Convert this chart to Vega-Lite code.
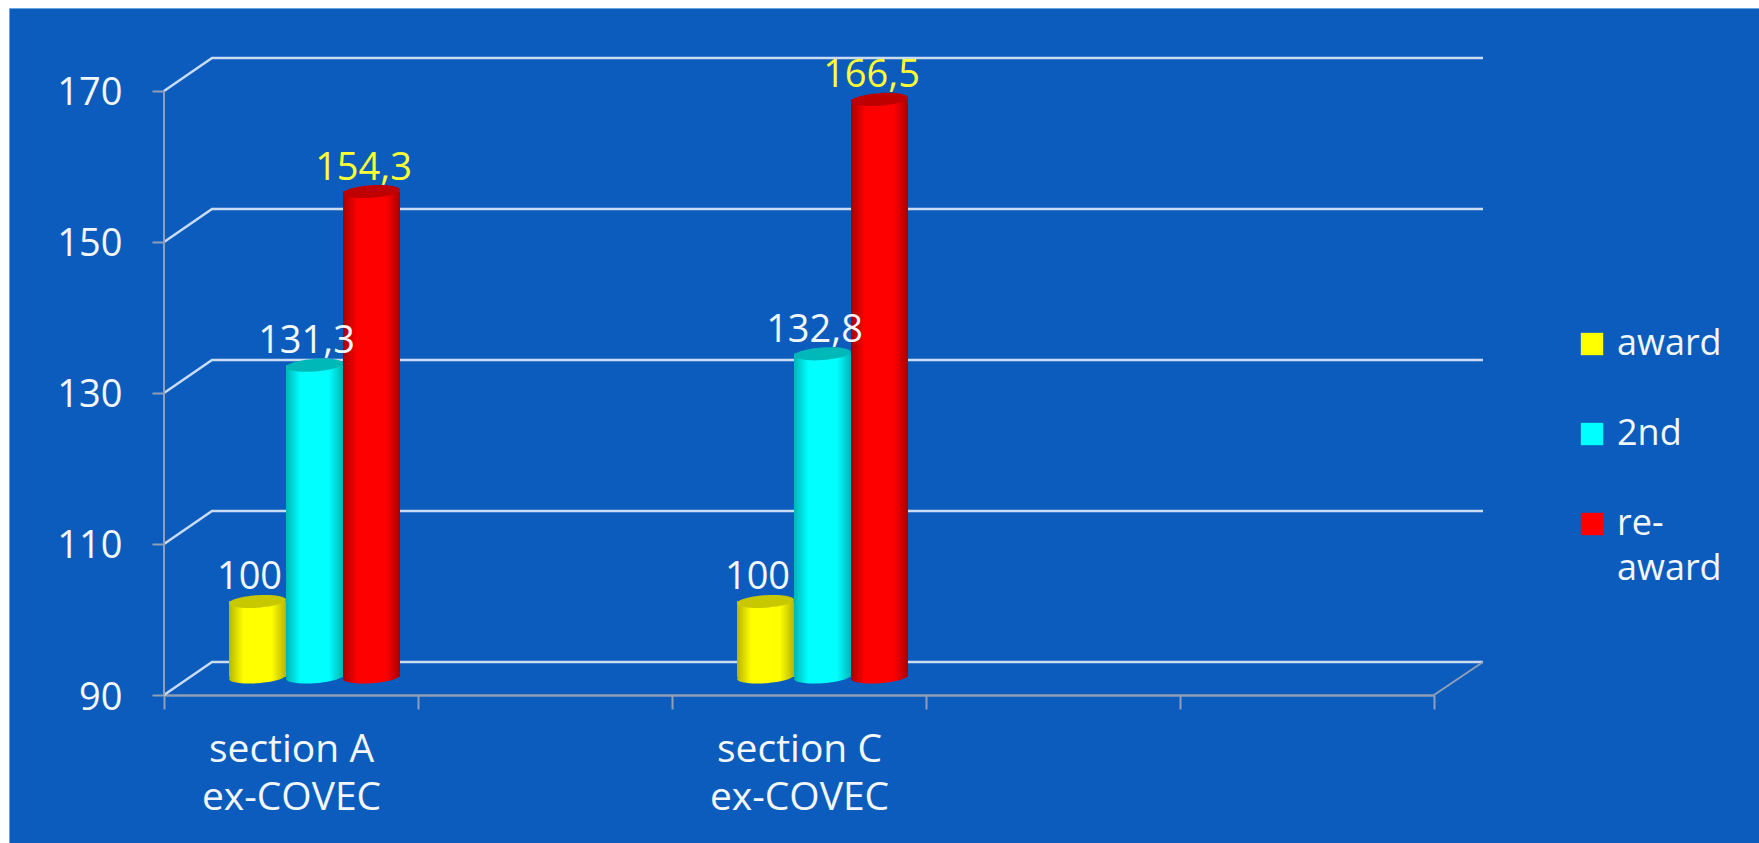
{
"$schema":"https://vega.github.io/schema/vega-lite/v6.json",
"width":1750,"height":835,"autosize":"none",
"padding":{"left":9,"top":8,"right":0,"bottom":0},
"background":"white",
"view":{"fill":"#0C5CBD","stroke":"#6AA5DE","strokeWidth":1},
"config":{"font":"Open Sans"},
"datasets":{
"bars":[
{"section":"section A ex-COVEC","series":"award","value":100,"label":"100"},
{"section":"section A ex-COVEC","series":"2nd","value":131.3,"label":"131,3"},
{"section":"section A ex-COVEC","series":"re-award","value":154.3,"label":"154,3"},
{"section":"section C ex-COVEC","series":"award","value":100,"label":"100"},
{"section":"section C ex-COVEC","series":"2nd","value":132.8,"label":"132,8"},
{"section":"section C ex-COVEC","series":"re-award","value":166.5,"label":"166,5"}
],
"grid":[
{"level":170,"step":1,"u":0,"v":170},{"level":170,"step":2,"u":0.189,"v":174.37},{"level":170,"step":3,"u":5.193,"v":174.37},
{"level":150,"step":1,"u":0,"v":150},{"level":150,"step":2,"u":0.189,"v":154.37},{"level":150,"step":3,"u":5.193,"v":154.37},
{"level":130,"step":1,"u":0,"v":130},{"level":130,"step":2,"u":0.189,"v":134.37},{"level":130,"step":3,"u":5.193,"v":134.37},
{"level":110,"step":1,"u":0,"v":110},{"level":110,"step":2,"u":0.189,"v":114.37},{"level":110,"step":3,"u":5.193,"v":114.37},
{"level":90,"step":1,"u":0,"v":90},{"level":90,"step":2,"u":0.189,"v":94.37},{"level":90,"step":3,"u":5.193,"v":94.37}
],
"frame":[
{"part":"wall","step":1,"u":0,"v":90},{"part":"wall","step":2,"u":0,"v":170},
{"part":"side","step":1,"u":5,"v":90},{"part":"side","step":2,"u":5.193,"v":94.37}
]
},
"layer":[
{"data":{"name":"grid"},"mark":{"type":"line","stroke":"#C9DCF4","strokeWidth":2.5},
 "encoding":{
  "x":{"field":"u","type":"quantitative","axis":null,"scale":{"domain":[0,5.193],"range":[155,1474],"nice":false,"zero":false}},
  "y":{"field":"v","type":"quantitative","title":null,"scale":{"domain":[90,174.37],"range":[687,50],"nice":false,"zero":false},
   "axis":{"offset":-155,"values":[90,110,130,150,170],"domain":false,"grid":false,"labelFont":"Open Sans","labelFontSize":38,"labelColor":"#F2F7FC","labelPadding":30,"labelOffset":3,"tickSize":12,"tickColor":"#8E9FB6","tickWidth":2}},
  "detail":{"field":"level"},"order":{"field":"step"}}},
{"data":{"name":"frame"},"mark":{"type":"line","stroke":"#8E9FB6","strokeWidth":2},
 "encoding":{
  "x":{"field":"u","type":"quantitative","axis":null,"scale":{"domain":[0,5.193],"range":[155,1474],"nice":false,"zero":false}},
  "y":{"field":"v","type":"quantitative","title":null,"scale":{"domain":[90,174.37],"range":[687,50],"nice":false,"zero":false},
   "axis":{"offset":-155,"values":[90,110,130,150,170],"domain":false,"grid":false,"labelFont":"Open Sans","labelFontSize":38,"labelColor":"#F2F7FC","labelPadding":30,"labelOffset":3,"tickSize":12,"tickColor":"#8E9FB6","tickWidth":2}},
  "detail":{"field":"part"},"order":{"field":"step"}}},
{"data":{"name":"bars"},
 "encoding":{
  "x":{"field":"section","type":"nominal","title":null,
   "scale":{"domain":["section A ex-COVEC"," ","section C ex-COVEC","  ","   "],"range":[155,1425],"paddingInner":0,"paddingOuter":0},
   "axis":{"offset":-148,"tickBand":"extent","labelAngle":0,"labelAlign":"center","labelBaseline":"top","labelFont":"Open Sans","labelFontSize":39,"labelColor":"#F2F7FC","labelLineHeight":48,"labelPadding":21,"tickSize":14,"tickColor":"#8E9FB6","tickWidth":2,"domainColor":"#8E9FB6","domainWidth":2.5,"grid":false,"labelLimit":400,
    "labelExpr":"[slice(datum.label,0,9),slice(datum.label,10)]"}},
  "xOffset":{"field":"series","type":"nominal","scale":{"domain":["award","2nd","re-award"],"range":[65,236],"paddingInner":0,"paddingOuter":0}},
  "y":{"field":"value","type":"quantitative","title":null,
   "scale":{"domain":[90,174.37],"range":[687,50],"nice":false,"zero":false},
   "axis":{"offset":-155,"values":[90,110,130,150,170],"domain":false,"grid":false,"labelFont":"Open Sans","labelFontSize":38,"labelColor":"#F2F7FC","labelPadding":30,"labelOffset":3,"tickSize":12,"tickColor":"#8E9FB6","tickWidth":2}}
 },
 "layer":[
  {"mark":{"type":"bar","yOffset":-18,"y2Offset":-18},
   "encoding":{"y2":{"datum":90},
    "color":{"field":"series","type":"nominal",
     "scale":{"domain":["award","2nd","re-award"],"range":["#FFFF00","#00FFFF","#FF0000"]},
     "legend":{"title":null,"orient":"none","legendX":1565,"legendY":318,"symbolType":"square","symbolSize":500,"symbolStrokeWidth":0,"symbolOpacity":1,"labelFont":"Open Sans","labelFontSize":36,"labelColor":"#F2F7FC","labelOffset":7,"rowPadding":54,"labelLimit":200,"labelExpr":"datum.label==='re-award'?['re-','award']:datum.label",
      "encoding":{"labels":{"lineHeight":{"value":45}}}}}}},

  {"transform":[{"filter":"datum.series==='award'"}],"mark":{"type":"point","filled":true,"opacity":1,"yOffset":-18,"size":3249,"angle":-4,"shape":"M -1 0 A 1 0.22 0 1 1 1 0 A 1 0.22 0 1 1 -1 0 Z","fill":{"gradient":"linear","x1":0,"x2":1,"y1":0,"y2":0,"stops":[{"offset":0,"color":"#B5B500"},{"offset":0.25,"color":"#FFFF00"},{"offset":0.75,"color":"#FFFF00"},{"offset":1,"color":"#B5B500"}]}},"encoding":{"y":{"datum":90}}},
  {"transform":[{"filter":"datum.series==='award'"}],"mark":{"type":"bar","yOffset":-18,"y2Offset":-18,"fill":{"gradient":"linear","x1":0,"x2":1,"y1":0,"y2":0,"stops":[{"offset":0,"color":"#B5B500"},{"offset":0.25,"color":"#FFFF00"},{"offset":0.75,"color":"#FFFF00"},{"offset":1,"color":"#B5B500"}]}},"encoding":{"y2":{"datum":90}}},
  {"transform":[{"filter":"datum.series==='award'"}],"mark":{"type":"point","filled":true,"opacity":1,"yOffset":-18,"size":3249,"angle":-4,"shape":"M -1 0 A 1 0.22 0 1 1 1 0 A 1 0.22 0 1 1 -1 0 Z","fill":"#C8C800"}},

  {"transform":[{"filter":"datum.series==='2nd'"}],"mark":{"type":"point","filled":true,"opacity":1,"yOffset":-18,"size":3249,"angle":-4,"shape":"M -1 0 A 1 0.22 0 1 1 1 0 A 1 0.22 0 1 1 -1 0 Z","fill":{"gradient":"linear","x1":0,"x2":1,"y1":0,"y2":0,"stops":[{"offset":0,"color":"#00B5B5"},{"offset":0.25,"color":"#00FFFF"},{"offset":0.75,"color":"#00FFFF"},{"offset":1,"color":"#00B5B5"}]}},"encoding":{"y":{"datum":90}}},
  {"transform":[{"filter":"datum.series==='2nd'"}],"mark":{"type":"bar","yOffset":-18,"y2Offset":-18,"fill":{"gradient":"linear","x1":0,"x2":1,"y1":0,"y2":0,"stops":[{"offset":0,"color":"#00B5B5"},{"offset":0.25,"color":"#00FFFF"},{"offset":0.75,"color":"#00FFFF"},{"offset":1,"color":"#00B5B5"}]}},"encoding":{"y2":{"datum":90}}},
  {"transform":[{"filter":"datum.series==='2nd'"}],"mark":{"type":"point","filled":true,"opacity":1,"yOffset":-18,"size":3249,"angle":-4,"shape":"M -1 0 A 1 0.22 0 1 1 1 0 A 1 0.22 0 1 1 -1 0 Z","fill":"#00B8B8"}},

  {"transform":[{"filter":"datum.series==='re-award'"}],"mark":{"type":"point","filled":true,"opacity":1,"yOffset":-18,"size":3249,"angle":-4,"shape":"M -1 0 A 1 0.22 0 1 1 1 0 A 1 0.22 0 1 1 -1 0 Z","fill":{"gradient":"linear","x1":0,"x2":1,"y1":0,"y2":0,"stops":[{"offset":0,"color":"#A80000"},{"offset":0.25,"color":"#FF0000"},{"offset":0.75,"color":"#FF0000"},{"offset":1,"color":"#A80000"}]}},"encoding":{"y":{"datum":90}}},
  {"transform":[{"filter":"datum.series==='re-award'"}],"mark":{"type":"bar","yOffset":-18,"y2Offset":-18,"fill":{"gradient":"linear","x1":0,"x2":1,"y1":0,"y2":0,"stops":[{"offset":0,"color":"#A80000"},{"offset":0.25,"color":"#FF0000"},{"offset":0.75,"color":"#FF0000"},{"offset":1,"color":"#A80000"}]}},"encoding":{"y2":{"datum":90}}},
  {"transform":[{"filter":"datum.series==='re-award'"}],"mark":{"type":"point","filled":true,"opacity":1,"yOffset":-18,"size":3249,"angle":-4,"shape":"M -1 0 A 1 0.22 0 1 1 1 0 A 1 0.22 0 1 1 -1 0 Z","fill":"#BE0000"}},

  {"mark":{"type":"text","font":"Open Sans","fontSize":38,"dy":-41,"dx":-8,"baseline":"middle","align":"center"},
   "encoding":{"text":{"field":"label","type":"nominal"},
    "color":{"condition":{"test":"datum.series==='re-award'","value":"#FFFF33"},"value":"#F2F7FC"}}}
 ]}
],
"resolve":{"scale":{"x":"independent"},"axis":{"x":"independent"}}
}
